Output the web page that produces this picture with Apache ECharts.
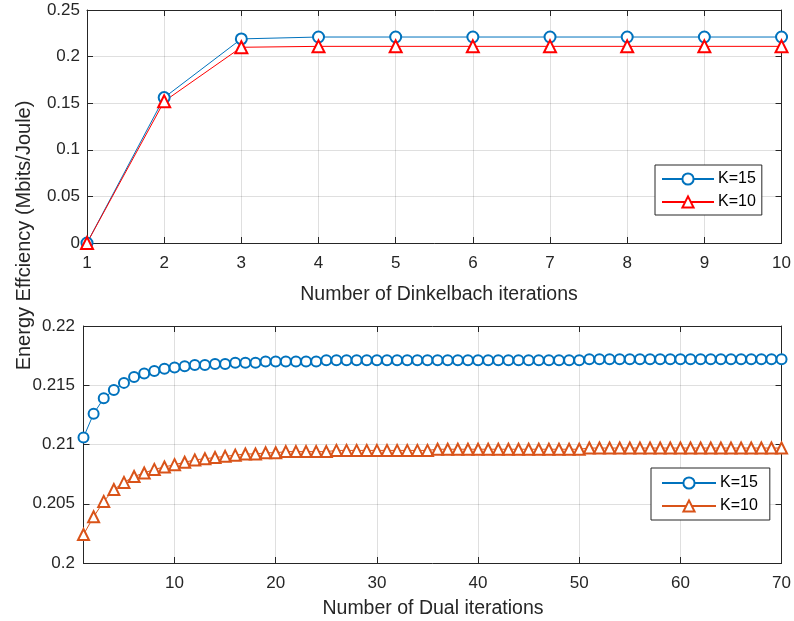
<!DOCTYPE html>
<html>
<head>
<meta charset="utf-8">
<script src="https://cdn.jsdelivr.net/npm/echarts@6/dist/echarts.min.js"></script>
<style>
html,body{margin:0;padding:0;background:#fff;}
#chart{width:794px;height:621px;}
</style>
</head>
<body>
<div id="chart"></div>
<script>
// ---- data ----
const dinkelbachIter = [1, 2, 3, 4, 5, 6, 7, 8, 9, 10];
const dinkK15 = [0, 0.156, 0.219, 0.221, 0.221, 0.221, 0.221, 0.221, 0.221, 0.221];
const dinkK10 = [0, 0.152, 0.210, 0.211, 0.211, 0.211, 0.211, 0.211, 0.211, 0.211];

const dualIter = [
  1, 2, 3, 4, 5, 6, 7, 8, 9, 10, 11, 12, 13, 14, 15, 16, 17, 18, 19, 20,
  21, 22, 23, 24, 25, 26, 27, 28, 29, 30, 31, 32, 33, 34, 35, 36, 37, 38, 39, 40,
  41, 42, 43, 44, 45, 46, 47, 48, 49, 50, 51, 52, 53, 54, 55, 56, 57, 58, 59, 60,
  61, 62, 63, 64, 65, 66, 67, 68, 69, 70
];
const dualK15 = [
  0.2106, 0.2126, 0.2139, 0.2146, 0.2152, 0.2157, 0.2160, 0.2162, 0.2164, 0.2165,
  0.2166, 0.2167, 0.2167, 0.2168, 0.2168, 0.2169, 0.2169, 0.2169, 0.2170, 0.2170,
  0.2170, 0.2170, 0.2170, 0.2170, 0.2171, 0.2171, 0.2171, 0.2171, 0.2171, 0.2171,
  0.2171, 0.2171, 0.2171, 0.2171, 0.2171, 0.2171, 0.2171, 0.2171, 0.2171, 0.2171,
  0.2171, 0.2171, 0.2171, 0.2171, 0.2171, 0.2171, 0.2171, 0.2171, 0.2171, 0.2171,
  0.2172, 0.2172, 0.2172, 0.2172, 0.2172, 0.2172, 0.2172, 0.2172, 0.2172, 0.2172,
  0.2172, 0.2172, 0.2172, 0.2172, 0.2172, 0.2172, 0.2172, 0.2172, 0.2172, 0.2172
];
const dualK10 = [
  0.2024, 0.2039, 0.2052, 0.2062, 0.2068, 0.2073, 0.2076, 0.2079, 0.2081, 0.2083,
  0.2085, 0.2087, 0.2088, 0.2089, 0.2090, 0.2091, 0.2092, 0.2092, 0.2093, 0.2093,
  0.2094, 0.2094, 0.2094, 0.2094, 0.2094, 0.2095, 0.2095, 0.2095, 0.2095, 0.2095,
  0.2095, 0.2095, 0.2095, 0.2095, 0.2095, 0.2096, 0.2096, 0.2096, 0.2096, 0.2096,
  0.2096, 0.2096, 0.2096, 0.2096, 0.2096, 0.2096, 0.2096, 0.2096, 0.2096, 0.2096,
  0.2097, 0.2097, 0.2097, 0.2097, 0.2097, 0.2097, 0.2097, 0.2097, 0.2097, 0.2097,
  0.2097, 0.2097, 0.2097, 0.2097, 0.2097, 0.2097, 0.2097, 0.2097, 0.2097, 0.2097
];
const dualTicks = [10, 20, 30, 40, 50, 60, 70];
const seriesNames = ['K=15', 'K=10'];

const yLabel = 'Energy Effciency (Mbits/Joule)';
const xLabelTop = 'Number of Dinkelbach iterations';
const xLabelBottom = 'Number of Dual iterations';

// ---- styling ----
const FONT = 'Liberation Sans, Arial, Helvetica, sans-serif';
const AX = '#262626';
const GRIDC = 'rgba(38,38,38,0.15)';
const BLUE = '#0072BD', RED = '#FF0000', ORANGE = '#D95319';
const TICKFS = 17;

function zip(xs, ys) { return xs.map((x, i) => [x, ys[i]]); }

function mainX(gi, min, max, extra) {
  return Object.assign({
    type: 'value', gridIndex: gi, min: min, max: max, position: 'bottom',
    axisLine: { show: true, onZero: false, lineStyle: { color: AX, width: 1 } },
    axisTick: { show: true, inside: true, length: 6, lineStyle: { color: AX } },
    axisLabel: { color: AX, fontSize: TICKFS, fontFamily: FONT, margin: 12 },
    splitLine: { show: true, lineStyle: { color: GRIDC, width: 1 } }
  }, extra || {});
}
function boxX(gi, min, max, extra) {
  return Object.assign({
    type: 'value', gridIndex: gi, min: min, max: max, position: 'top',
    axisLine: { show: true, onZero: false, lineStyle: { color: AX, width: 1 } },
    axisTick: { show: true, inside: true, length: 6, lineStyle: { color: AX } },
    axisLabel: { show: false },
    splitLine: { show: false }
  }, extra || {});
}
function mainY(gi, min, max, interval, margin) {
  return {
    type: 'value', gridIndex: gi, min: min, max: max, interval: interval, position: 'left',
    axisLine: { show: true, onZero: false, lineStyle: { color: AX, width: 1 } },
    axisTick: { show: true, inside: true, length: 6, lineStyle: { color: AX } },
    axisLabel: { color: AX, fontSize: TICKFS, fontFamily: FONT, margin: margin },
    splitLine: { show: true, lineStyle: { color: GRIDC, width: 1 } }
  };
}
function boxY(gi, min, max, interval) {
  return {
    type: 'value', gridIndex: gi, min: min, max: max, interval: interval, position: 'right',
    axisLine: { show: true, onZero: false, lineStyle: { color: AX, width: 1 } },
    axisTick: { show: true, inside: true, length: 6, lineStyle: { color: AX } },
    axisLabel: { show: false },
    splitLine: { show: false }
  };
}
function lineSeries(name, xi, yi, data, color, symbol, size) {
  return {
    name: name, type: 'line', xAxisIndex: xi, yAxisIndex: yi, data: data,
    symbol: symbol, symbolSize: size, showSymbol: true, clip: false,
    lineStyle: { color: color, width: 1 },
    itemStyle: { color: color, borderColor: color, borderWidth: 1.2 },
    emphasis: { disabled: true }
  };
}
function legendCfg(names, left, top, padding, itemWidth) {
  return {
    data: names, orient: 'vertical', left: left, top: top,
    padding: padding, itemGap: 7, itemWidth: itemWidth, itemHeight: 14,
    backgroundColor: '#fff', borderColor: AX, borderWidth: 1, borderRadius: 0,
    textStyle: { color: '#000', fontSize: 16, fontFamily: FONT, padding: [0, 0, 0, -1] },
    formatter: n => n.split('|')[0],
    selectedMode: false
  };
}

const chart = echarts.init(document.getElementById('chart'), null, { renderer: 'canvas' });
chart.setOption({
  animation: false,
  backgroundColor: '#fff',
  grid: [
    { left: 87, right: 12, top: 10, height: 233, containLabel: false },
    { left: 83.5, right: 10, top: 326, height: 237, containLabel: false }
  ],
  xAxis: [
    mainX(0, 1, 10, { interval: 1 }),
    boxX(0, 1, 10, { interval: 1 }),
    mainX(1, 1, 70, {
      axisTick: { show: true, inside: true, length: 6, lineStyle: { color: AX }, customValues: dualTicks },
      axisLabel: { color: AX, fontSize: TICKFS, fontFamily: FONT, margin: 12, customValues: dualTicks }
    }),
    boxX(1, 1, 70, {
      axisTick: { show: true, inside: true, length: 6, lineStyle: { color: AX }, customValues: dualTicks }
    })
  ],
  yAxis: [
    mainY(0, 0, 0.25, 0.05, 7),
    boxY(0, 0, 0.25, 0.05),
    mainY(1, 0.2, 0.22, 0.005, 8.5),
    boxY(1, 0.2, 0.22, 0.005)
  ],
  legend: [
    legendCfg([seriesNames[0] + '|a', seriesNames[1] + '|a'], 655, 165, [6, 6, 5, 6], 52),
    legendCfg([seriesNames[0] + '|b', seriesNames[1] + '|b'], 651, 468, [7, 12, 6, 10], 54)
  ],
  series: [
    lineSeries(seriesNames[0] + '|a', 0, 0, zip(dinkelbachIter, dinkK15), BLUE, 'emptyCircle', 11),
    lineSeries(seriesNames[1] + '|a', 0, 0, zip(dinkelbachIter, dinkK10), RED, 'emptyTriangle', 12),
    lineSeries(seriesNames[0] + '|b', 2, 2, zip(dualIter, dualK15), BLUE, 'emptyCircle', 10),
    lineSeries(seriesNames[1] + '|b', 2, 2, zip(dualIter, dualK10), ORANGE, 'emptyTriangle', 11)
  ],
  graphic: [
    { type: 'text', x: 439, y: 295,
      style: { text: xLabelTop, font: '19.5px ' + FONT, fill: AX, align: 'center', verticalAlign: 'middle' } },
    { type: 'text', x: 433, y: 609,
      style: { text: xLabelBottom, font: '19.5px ' + FONT, fill: AX, align: 'center', verticalAlign: 'middle' } },
    { type: 'text', x: 24, y: 235.5, rotation: Math.PI / 2,
      style: { text: yLabel, font: '20px ' + FONT, fill: AX, align: 'center', verticalAlign: 'middle' } }
  ]
});
</script>
</body>
</html>
